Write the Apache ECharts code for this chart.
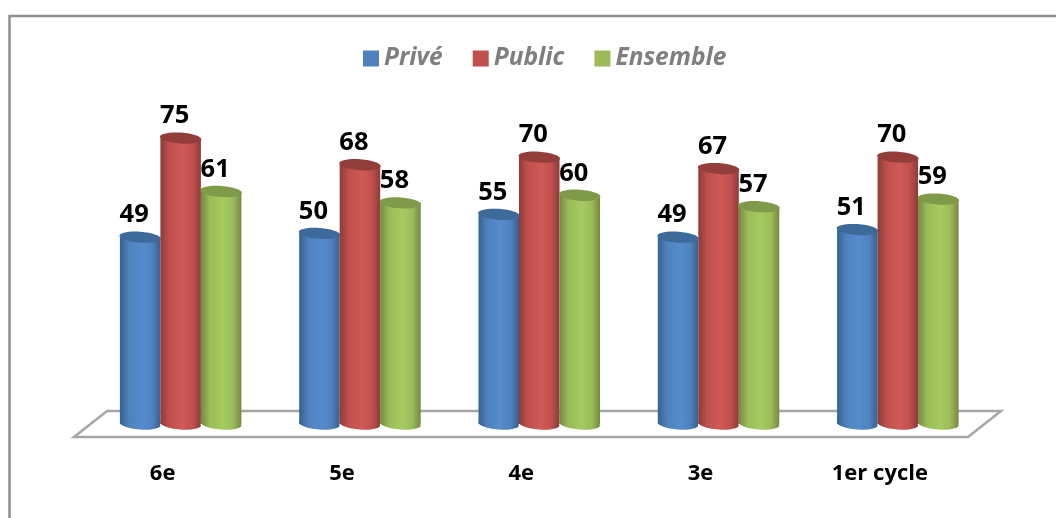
<!DOCTYPE html>
<html><head><meta charset="utf-8">
<style>html,body{margin:0;padding:0;background:#fff}#c{width:1056px;height:518px}</style>
<script src="https://cdn.jsdelivr.net/npm/echarts@6/dist/echarts.min.js"></script>
</head><body><div id="c"></div>
<script>
const categories = ['6e','5e','4e','3e','1er cycle'];
const prive = [49,50,55,49,51];
const publicVals = [75,68,70,67,70];
const ensemble = [61,58,60,57,59];

const seriesNames = ['Privé','Public','Ensemble'];
const seriesData = [prive, publicVals, ensemble];
const flat = ['#4f81bd','#c0504d','#9bbb59'];
const edge = ['#36618f','#8c3b38','#75893f'];
const mid = ['#558ccd','#cf5a57','#a6cb60'];
const capCol = ['#3d6a9a','#943e3c','#7f9a48'];
const barW = 40.5, capRy = 5.5, tilt = -0.07;

const grad = i => ({type:'linear',x:0,y:0,x2:1,y2:0,colorStops:[
  {offset:0,color:edge[i]},{offset:0.22,color:flat[i]},{offset:0.55,color:mid[i]},
  {offset:0.8,color:flat[i]},{offset:1,color:edge[i]}]});

const capData = [];
seriesData.forEach((arr,s)=>arr.forEach((v,c)=>capData.push([c,v,s])));

const chart = echarts.init(document.getElementById('c'),null,{renderer:'canvas'});
chart.setOption({
  animation:false,
  backgroundColor:'#fff',
  legend:{
    data:seriesNames.map((n,i)=>({name:n,itemStyle:{color:flat[i]}})),
    left:358,top:41,itemWidth:16,itemHeight:16,itemGap:30,icon:'rect',
    textStyle:{fontFamily:'Open Sans',fontWeight:'bold',fontStyle:'italic',fontSize:24.5,color:'#7f7f7f'}
  },
  grid:{left:91,right:68.5,top:119,bottom:94},
  xAxis:{type:'category',data:categories,
    axisLine:{show:false},axisTick:{show:false},
    axisLabel:{margin:39,padding:[0,36,0,0],fontFamily:'Open Sans',fontWeight:'bold',fontSize:22,color:'#000'}},
  yAxis:{type:'value',min:0,max:80,show:false},
  graphic:[
    {type:'polyline',z:0,silent:true,shape:{points:[[1070,16],[9.5,16],[9.5,530]]},style:{fill:null,stroke:'#8f8f8f',lineWidth:2.5}},
    {type:'polygon',z:0,silent:true,shape:{points:[[74,437],[968,437],[1001,411],[107,411]]},style:{fill:'#fff',stroke:'#a6a6a6',lineWidth:2.5}}
  ],
  series:[
    ...seriesNames.map((n,i)=>({
      name:n,type:'bar',data:seriesData[i],barWidth:barW,barGap:'0%',z:2+i,
      itemStyle:{color:grad(i)},
      label:{show:true,position:'top',distance:5,offset:[-6,-4],fontFamily:'Open Sans',fontWeight:'bold',fontSize:25.5,color:'#000'}
    })),
    {type:'custom',name:'bases',z:3,data:capData,silent:true,
     renderItem(params,api){
      const c=api.value(0),v=api.value(1),s=api.value(2);
      const top=api.coord([c,v]),base=api.coord([c,0]);
      const x=top[0]+(s-1)*barW;
      return {type:'ellipse',x:x,y:base[1],rotation:tilt,
        shape:{cx:0,cy:0,rx:barW/2,ry:capRy},style:{fill:grad(s)}};
     }},
    {type:'custom',name:'tops',z:10,data:capData,silent:true,
     renderItem(params,api){
      const c=api.value(0),v=api.value(1),s=api.value(2);
      const top=api.coord([c,v]);
      const x=top[0]+(s-1)*barW;
      return {type:'ellipse',x:x,y:top[1],rotation:tilt,
        shape:{cx:0,cy:0,rx:barW/2+0.5,ry:capRy},style:{fill:capCol[s]}};
     }}
  ]
});
</script></body></html>
